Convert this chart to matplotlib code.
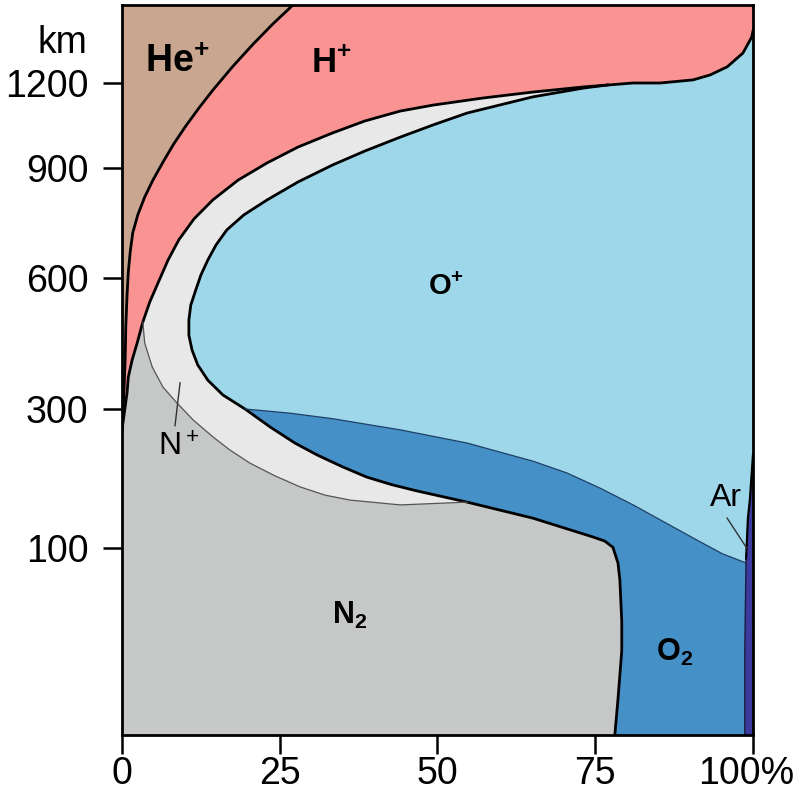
import numpy as np
import matplotlib.pyplot as plt
from matplotlib.transforms import ScaledTranslation

plt.rcParams['font.family'] = ['Liberation Sans', 'DejaVu Sans']
plt.rcParams['mathtext.fontset'] = 'custom'
plt.rcParams['mathtext.rm'] = 'Liberation Sans'
plt.rcParams['mathtext.bf'] = 'Liberation Sans:bold'
plt.rcParams['mathtext.it'] = 'Liberation Sans:italic'

# non-linear altitude axis of the original (km -> relative height)
alt_knots = [0, 100, 300, 600, 900, 1200, 1500]
pos_knots = [0, 187, 326, 457, 567, 652, 730]

# boundaries: x in %, altitude in km
# He+ / H+
he_x = [27.1, 23.9, 20.8, 17.6, 14.4, 12.2, 10.1, 8.2, 6.5, 4.9, 3.6, 2.5, 1.7,
        1.3, 1.0, 0.8, 0.6, 0.5, 0.3, 0.0]
he_km = [1500, 1427, 1350, 1265, 1175, 1112, 1048, 985, 921, 867, 821, 772, 723,
         671, 616, 561, 488, 412, 337, 270]

# lower edge of H+ (first against N2 up to the tip, then N+ / O+)
hp_x = [0.0, 0.3, 0.8, 1.0, 1.6, 2.4, 3.3, 4.4, 5.9, 7.3, 9.0, 11.4, 14.4, 18.4,
        23.0, 27.9, 33.4, 38.5, 44.1, 49.3, 57.2, 65.1, 73.1, 81.0, 85.3, 90.5,
        93.2, 95.9, 98.4, 99.8, 100.0]
hp_km = [270, 290, 337, 373, 412, 451, 499, 545, 595, 649, 704, 761, 813, 867,
         918, 974, 1024, 1066, 1101, 1122, 1147, 1168, 1186, 1200, 1200, 1212,
         1231, 1262, 1315, 1377, 1400]

# O+ outline: from where it meets H+, round the nose, then N+/O2 and N2/O2
ox = [76.9, 73.1, 65.1, 54.7, 49.3, 44.1, 38.5, 33.4, 27.9, 23.0, 19.3, 16.6,
      14.9, 13.6, 12.5, 11.7, 10.9, 10.6, 10.6, 11.1, 12.0, 13.6, 16.0, 19.5,
      23.5, 27.4, 30.9, 34.9, 38.8, 42.8, 46.8, 54.7, 65.1, 74.6, 76.5, 77.8,
      78.6, 78.9, 79.2, 79.2, 78.6, 78.1]
okm = [1193, 1182, 1151, 1094, 1052, 1009, 960, 911, 862, 813, 772, 731,
       690, 649, 608, 573, 538, 504, 469, 435, 401, 366, 332, 300,
       274, 251, 234, 217, 202, 191, 182, 166, 143, 116, 110, 101,
       92, 83, 61, 45, 19, 0]

# N+ / N2 (thin)
nx = [3.3, 3.6, 4.8, 6.5, 8.7, 11.3, 14.4, 17.1, 20.3, 24.2, 28.2, 32.2, 36.1,
      44.1, 54.7]
nkm = [499, 451, 396, 350, 314, 284, 260, 241, 222, 204, 188, 176, 169, 162, 166]

# O2 / O+ (thin)
tx = [19.5, 26.6, 33.4, 44.1, 54.7, 65.1, 70.5, 75.8, 81.0, 86.4, 91.6, 95.1, 98.9]
tkm = [300, 294, 286, 270, 251, 225, 208, 186, 162, 135, 109, 97, 92]

# Ar left edge
ar_x = [100.0, 99.5, 99.2, 98.9, 98.7, 98.7]
ar_km = [234, 169, 143, 94, 45, 0]

colors = {'He': '#c9a68f', 'H': '#f99492', 'N+': '#e8e8e8', 'O+': '#9dd7e9',
          'N2': '#c6c7c7', 'O2': '#4690c8', 'Ar': '#3c3a9e'}


def fwd(a):
    return np.interp(a, alt_knots, pos_knots)


def inv(p):
    return np.interp(p, pos_knots, alt_knots)


def find(xs, ks, x, k):
    return [i for i in range(len(xs)) if xs[i] == x and ks[i] == k][0]


tip = find(hp_x, hp_km, nx[0], nkm[0])
o2_start = find(ox, okm, tx[0], tkm[0])
junction = find(ox, okm, nx[-1], nkm[-1])
merge = max(i for i in range(len(hp_x)) if hp_x[i] < ox[0])

fig = plt.figure(figsize=(8, 7.97), dpi=100)
ax = fig.add_axes([122 / 800, 1 - 735 / 797, 631 / 800, 730 / 797])
ax.set_yscale('function', functions=(fwd, inv))
ax.set_xlim(0, 100)
ax.set_ylim(0, 1500)
ax.set_facecolor(colors['O+'])

# He+
ax.fill([0] + he_x, [1500] + he_km, color=colors['He'], lw=0)
# H+
ax.fill(he_x + hp_x[1:] + [100], he_km + hp_km[1:] + [1500], color=colors['H'], lw=0)
# N2
ax.fill([0] + hp_x[:tip + 1] + nx[1:] + ox[junction + 1:],
        [0] + hp_km[:tip + 1] + nkm[1:] + okm[junction + 1:],
        color=colors['N2'], lw=0)
# N+
ax.fill(nx + ox[junction - 1::-1] + hp_x[merge:tip:-1],
        nkm + okm[junction - 1::-1] + hp_km[merge:tip:-1],
        color=colors['N+'], lw=0)
# O2
ax.fill(tx + ar_x[4:] + ox[:o2_start - 1:-1],
        tkm + ar_km[4:] + okm[:o2_start - 1:-1],
        color=colors['O2'], lw=0)
# Ar
ax.fill(ar_x + [100], ar_km + [0], color=colors['Ar'], lw=0)

# outlines
ax.plot(he_x, he_km, color='black', lw=2)
ax.plot(hp_x, hp_km, color='black', lw=2)
ax.plot(ox, okm, color='black', lw=2)
ax.plot(nx, nkm, color='#555555', lw=0.9)
ax.plot(tx, tkm, color='#1f3f66', lw=0.9)
ax.plot(ar_x[:4], ar_km[:4], color='black', lw=1.6)
ax.plot(ar_x[3:], ar_km[3:], color='#1a1a40', lw=1)

# labels
ax.text(8.8, 1280, r'He$^{\mathbf{+}}$', fontsize=27, fontweight='bold', ha='center', va='center')
ax.text(33.2, 1280, r'H$^{\mathbf{+}}$', fontsize=25, fontweight='bold', ha='center', va='center')
ax.text(51.3, 580, r'O$^{\mathbf{+}}$', fontsize=21, fontweight='bold', ha='center', va='center')
ax.text(36.1, 64, r'N$_{\mathbf{2}}$', fontsize=22, fontweight='bold', ha='center', va='center')
ax.text(87.6, 44, r'O$_{\mathbf{2}}$', fontsize=22, fontweight='bold', ha='center', va='center')
ax.text(8.9, 244, r'N$^+$', fontsize=23, ha='center', va='center')
ax.plot([9.2, 8.4], [360, 276], color='#333333', lw=1)
ax.text(95.7, 172, 'Ar', fontsize=23, ha='center', va='center')
ax.plot([95.9, 99.0], [143, 100], color='#333333', lw=1)

ax.set_xticks([0, 25, 50, 75, 100])
ax.set_xticklabels(['0', '25', '50', '75', '100%'])
ax.set_yticks([100, 300, 600, 900, 1200])
ax.set_yticklabels(['100', '300', '600', '900', '1200'])
ax.minorticks_off()
ax.tick_params(axis='both', direction='out', length=14, width=1.8, labelsize=27)
ax.tick_params(axis='y', pad=10)
ax.tick_params(axis='x', pad=1)
last = ax.get_xticklabels()[-1]
last.set_transform(last.get_transform() + ScaledTranslation(-5 / 72, 0, fig.dpi_scale_trans))
for s in ax.spines.values():
    s.set_linewidth(2)

fig.text(87 / 800, 1 - 53 / 797, 'km', ha='right', va='baseline', fontsize=27)

fig.savefig('out.png', dpi=100)
